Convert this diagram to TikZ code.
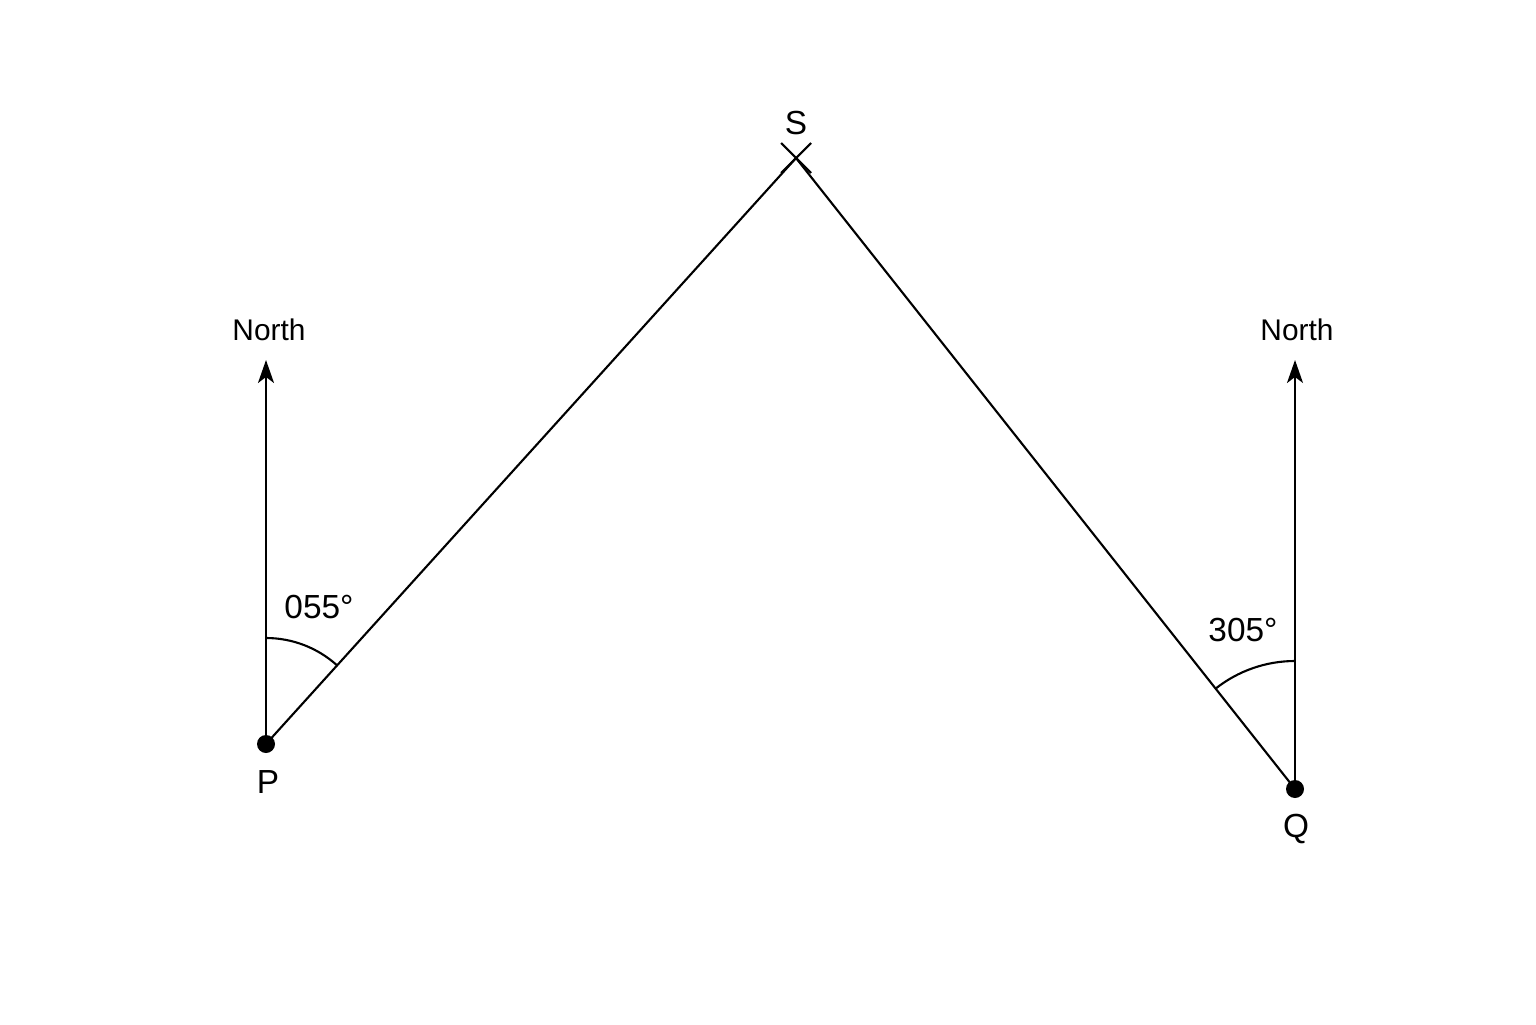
\documentclass[tikz,border=0pt]{standalone}
\usepackage{fontspec}
\setmainfont{Liberation Sans}
\usetikzlibrary{arrows.meta}
\def\r{0.09}

\begin{document}
\begin{tikzpicture}
			\tikzset{edge/.style={line width=0.6pt}, north/.style={line width=0.6pt, -{Stealth[length=2.3mm, width=1.6mm, inset=0.6mm]}}, lbl/.style={font=\fontsize{9.5}{11}\selectfont}}
			\useasboundingbox (0,0) rectangle (15.36,10.24);
			\coordinate(P) at (2.66,2.80);
			\coordinate(Q) at (12.95,2.35);
			\coordinate(S) at (7.96,8.66);
			\coordinate(NP) at (2.66,6.64);
			\coordinate(NQ) at (12.95,6.64);
			\fill (P) circle (\r);
			\fill (Q) circle (\r);
			\node[lbl] (p) at (2.68,2.42){P};
			\node[lbl] (q) at (12.96,1.95){Q};
			\node[lbl] (s) at (7.96,9.01){S};
			\node[font=\fontsize{8.5}{10}\selectfont] (np) at (2.69,6.94){North};
			\node[font=\fontsize{8.5}{10}\selectfont] (nq) at (12.97,6.94){North};
			\draw[north] (P)--(NP);
			\draw[north] (Q)--(NQ);
			\draw[edge] (P)--(S);
			\draw[edge] (Q)--(S);
			\draw[edge] (S)+(-0.15,0.15)--+(0.15,-0.15);
			\draw[edge] (S)+(0.15,0.15)--+(-0.15,-0.15);
			\draw[edge] (P)+(0,1.06) arc[start angle=90, end angle=48, radius=1.06];
			\draw[edge] (Q)+(0,1.28) arc[start angle=90, end angle=128.3, radius=1.28];
			\node[lbl] (a) at (3.19,4.17){055°};
			\node[lbl] (b) at (12.43,3.94){305°};
		\end{tikzpicture}
\end{document}
